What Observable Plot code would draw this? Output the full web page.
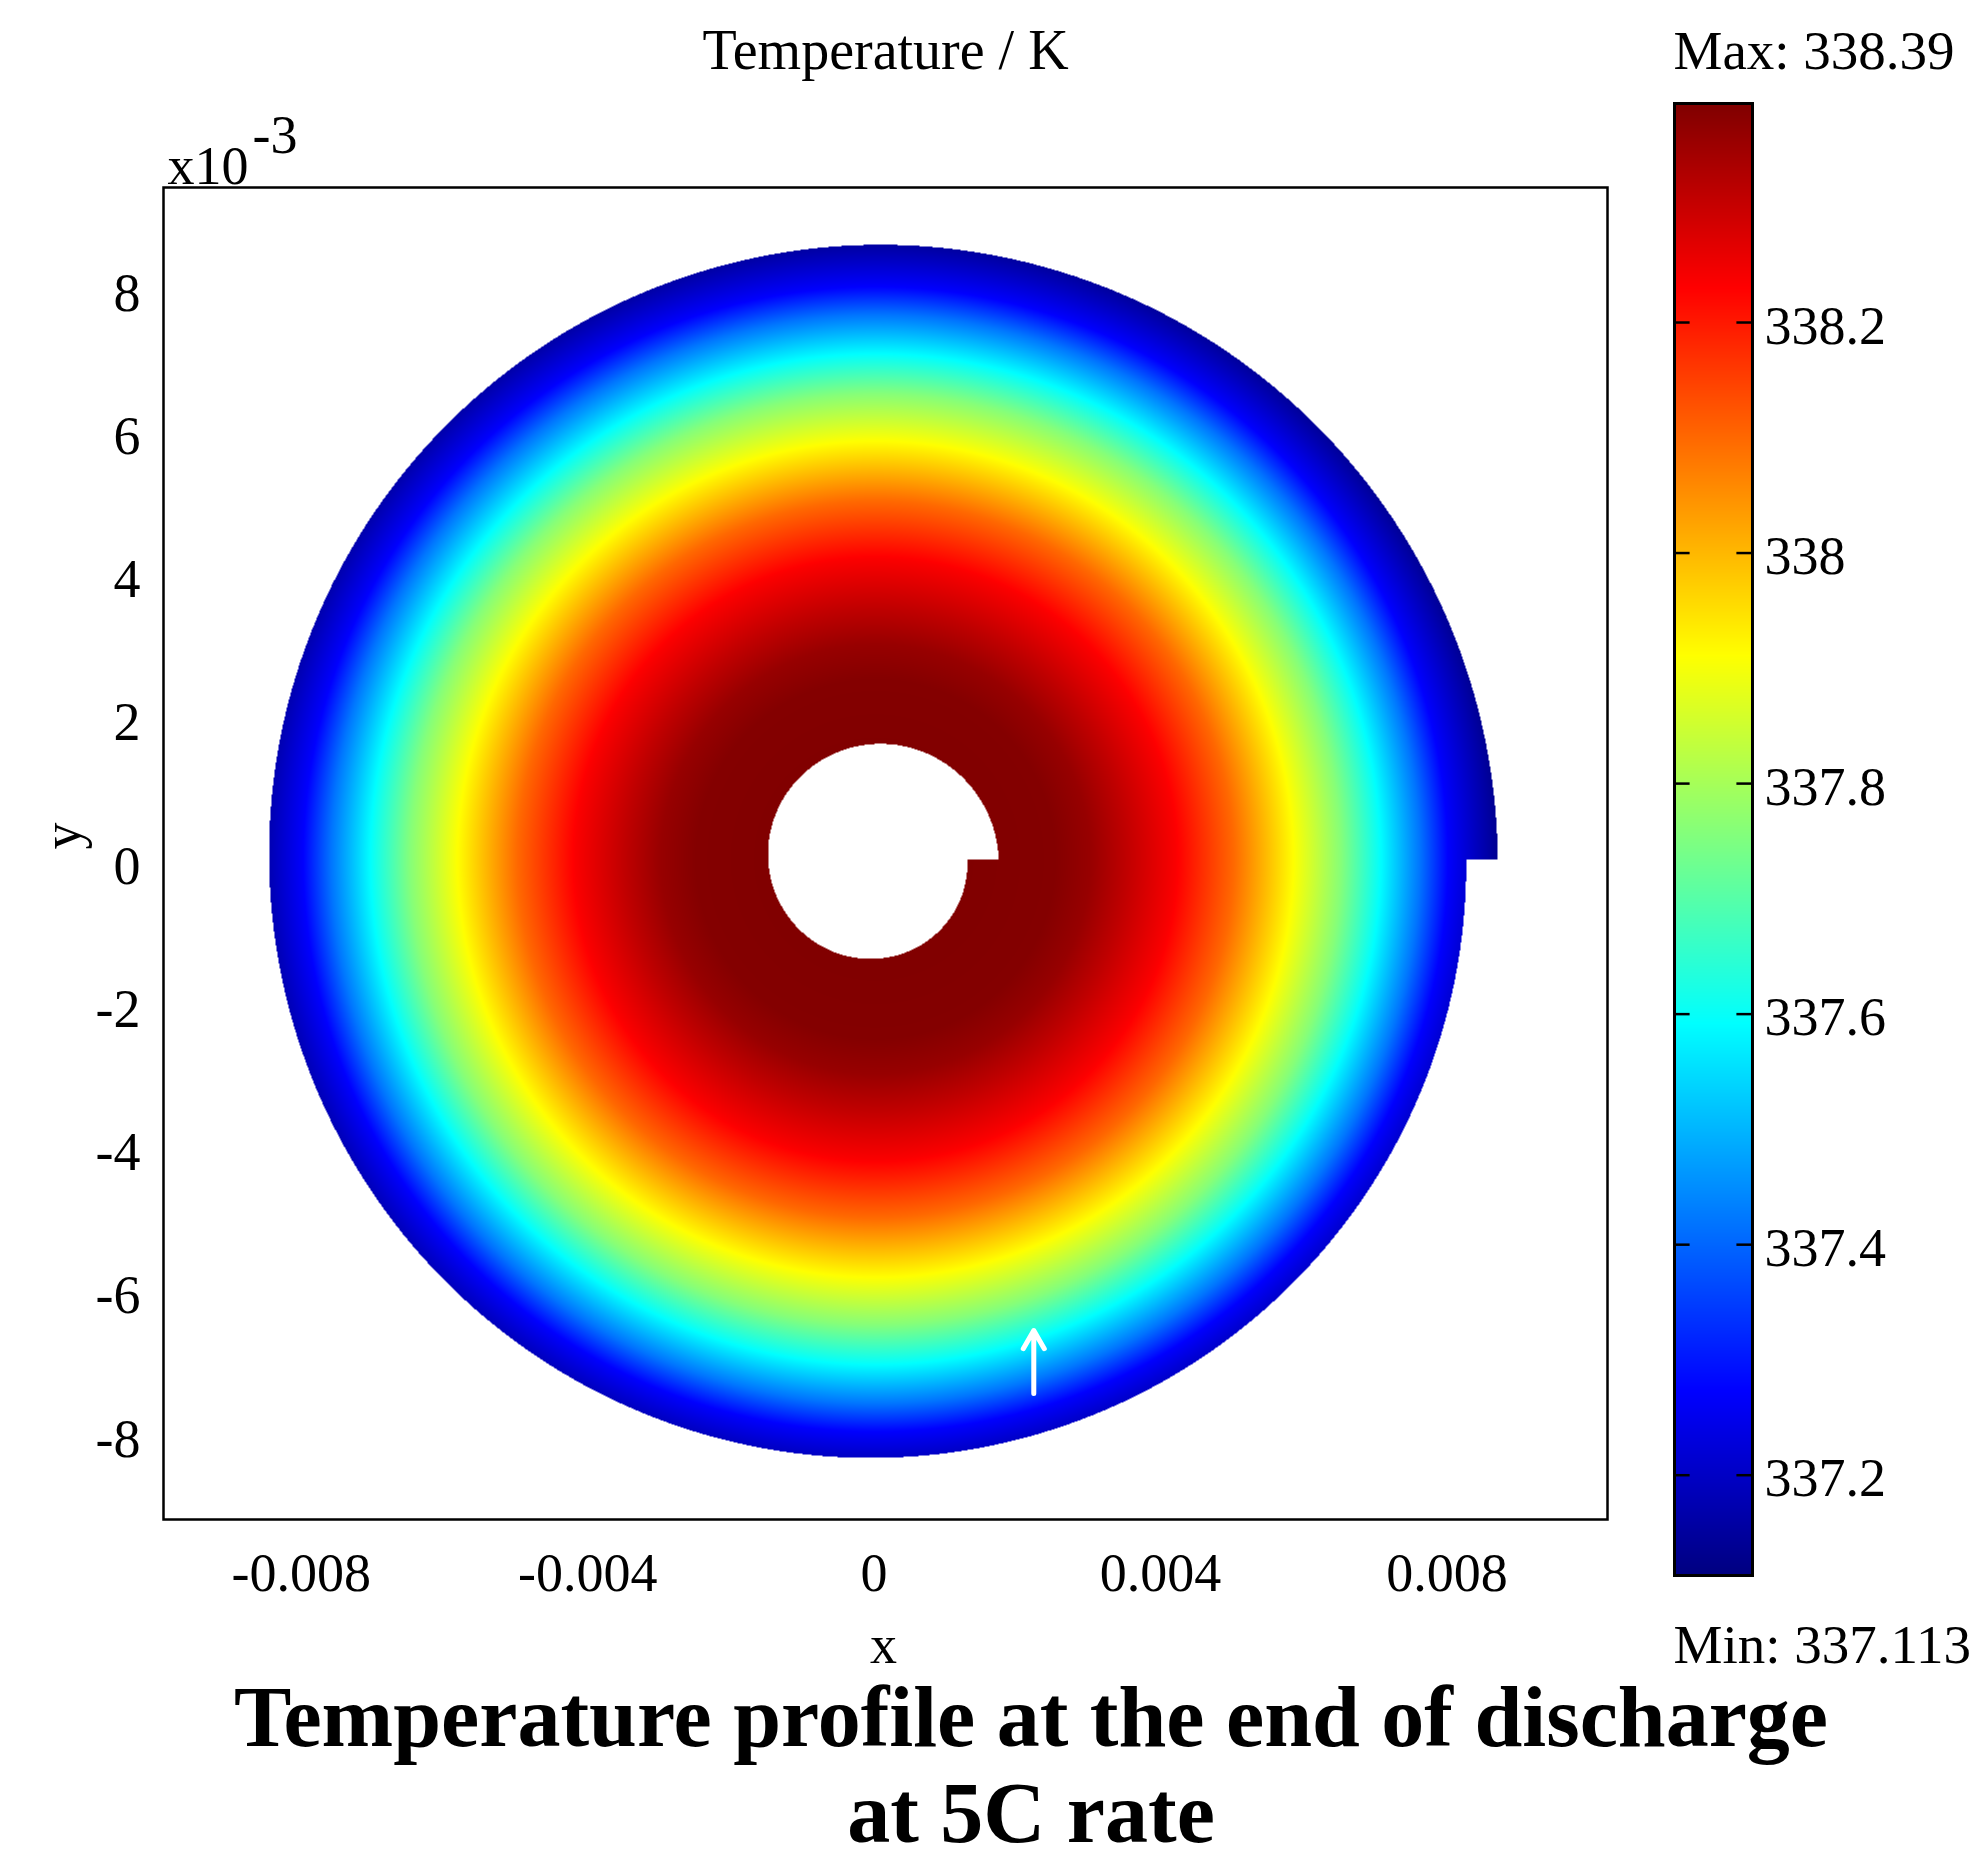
<!DOCTYPE html>
<html>
<head>
<meta charset="utf-8">
<script src="https://cdn.jsdelivr.net/npm/d3@7"></script>
<script src="https://cdn.jsdelivr.net/npm/@observablehq/plot@0.6"></script>
<style>
  html, body { margin: 0; padding: 0; background: #fff; }
  #chart { position: relative; width: 1978px; height: 1861px; overflow: hidden; background: #fff; }
  #chart svg { position: absolute; top: 0; }
  #caption {
    position: absolute; left: 84px; width: 1894px; top: 1669px; height: 192px;
    text-align: center; font-family: 'Liberation Serif', 'Times New Roman', serif;
    font-weight: bold; font-size: 86px; line-height: 96px; color: #000; white-space: pre;
  }
</style>
</head>
<body>
<div id="chart"></div>
<script>
// ---------------- data ----------------
const xTicks = [-0.008, -0.004, 0, 0.004, 0.008];
const xTickLabels = ["-0.008", "-0.004", "0", "0.004", "0.008"];
const yTicks = [-0.008, -0.006, -0.004, -0.002, 0, 0.002, 0.004, 0.006, 0.008];
const yTickLabels = ["-8", "-6", "-4", "-2", "0", "2", "4", "6", "8"];
const colorTicks = [337.2, 337.4, 337.6, 337.8, 338, 338.2];
const colorTickLabels = ["337.2", "337.4", "337.6", "337.8", "338", "338.2"];
const tempMin = 337.113;
const tempMax = 338.39;

// radial temperature profile (radius in m -> temperature in K)
const profileRadius = [0.0012, 0.0025, 0.0030, 0.0035, 0.0042, 0.0050, 0.0058, 0.0065, 0.0070, 0.0076, 0.0080, 0.0084, 0.0088];
const profileTemp   = [338.39, 338.385, 338.36, 338.31, 338.235, 338.10, 337.92, 337.76, 337.61, 337.42, 337.27, 337.19, 337.113];

// spiral (jelly-roll) geometry, metres
const spiralCenter = [0.00002, 0.0001];
const spiralInnerStart = 0.00172;
const spiralOuterStart = 0.00869;
const spiralPitch = 0.00044;

// white arrow
const arrowX = [0.00223];
const arrowYFrom = [-0.00736];
const arrowYTo = [-0.00648];

const xDomain = [-0.009925, 0.010243];
const yDomain = [-0.00912, 0.00948];

// jet colormap
const jetStops = [0, 0.125, 0.375, 0.625, 0.875, 1];
const jetColors = ["#000080", "#0000ff", "#00ffff", "#ffff00", "#ff0000", "#800000"];

// ---------------- drawing ----------------
const serif = "'Liberation Serif', 'Times New Roman', serif";
const colorScale = {
  type: "linear",
  domain: jetStops.map(t => tempMin + t * (tempMax - tempMin)),
  range: jetColors,
  interpolate: "rgb"
};

const profile = d3.scaleLinear().domain(profileRadius).range(profileTemp).clamp(true);
function temperatureAt(x, y) {
  const dx = x - spiralCenter[0], dy = y - spiralCenter[1];
  const r = Math.hypot(dx, dy);
  let a = Math.atan2(dy, dx);
  if (a < 0) a += 2 * Math.PI;
  const shrink = spiralPitch * a / (2 * Math.PI);
  if (r < spiralInnerStart - shrink || r > spiralOuterStart - shrink) return NaN;
  return profile(r);
}

const arrows = arrowX.map((x, i) => ({x, y1: arrowYFrom[i], y2: arrowYTo[i]}));

const main = Plot.plot({
  width: 1620, height: 1700,
  marginLeft: 163, marginRight: 13, marginTop: 187, marginBottom: 181,
  x: {domain: xDomain},
  y: {domain: yDomain},
  color: colorScale,
  style: {fontFamily: serif, fontSize: "54px", color: "black", background: "transparent"},
  marks: [
    Plot.raster({fill: temperatureAt, x1: xDomain[0], x2: xDomain[1], y1: yDomain[0], y2: yDomain[1], pixelSize: 1}),
    Plot.arrow(arrows, {x1: "x", x2: "x", y1: "y1", y2: "y2", stroke: "white", strokeWidth: 5, headLength: 8}),
    Plot.frame({stroke: "black", strokeWidth: 2.5}),
    Plot.axisX(xTicks, {tickSize: 0, tickPadding: 33, fontSize: 54, label: null,
      tickFormat: d => xTickLabels[xTicks.indexOf(d)]}),
    Plot.axisY(yTicks, {tickSize: 0, tickPadding: 23, fontSize: 54, label: null,
      tickFormat: d => yTickLabels[yTicks.indexOf(d)]}),
    Plot.text(["Temperature / K"], {frameAnchor: "top", dy: -119, lineAnchor: "bottom", fontSize: 56}),
    Plot.text(["x10"], {frameAnchor: "top-left", textAnchor: "start", dx: 4, dy: -4, lineAnchor: "bottom", fontSize: 54}),
    Plot.text(["-3"], {frameAnchor: "top-left", textAnchor: "start", dx: 89, dy: -35, lineAnchor: "bottom", fontSize: 54}),
    Plot.text(["x"], {frameAnchor: "bottom", dx: -2, dy: 143, lineAnchor: "bottom", fontSize: 54}),
    Plot.text(["y"], {frameAnchor: "left", dx: -101, dy: -4, rotate: -90, fontSize: 54})
  ]
});
main.style.left = "0px";

const bar = Plot.plot({
  width: 358, height: 1700,
  marginLeft: 54, marginRight: 226, marginTop: 103, marginBottom: 125,
  x: {domain: [0, 1], axis: null},
  y: {domain: [tempMin, tempMax], axis: null},
  color: colorScale,
  style: {fontFamily: serif, fontSize: "54px", color: "black", background: "transparent"},
  marks: [
    Plot.raster({fill: (x, y) => y, x1: 0, x2: 1, y1: tempMin, y2: tempMax, pixelSize: 1}),
    Plot.ruleY(colorTicks, {x1: 0, x2: 0.2, stroke: "black", strokeWidth: 2.5}),
    Plot.ruleY(colorTicks, {x1: 0.8, x2: 1, stroke: "black", strokeWidth: 2.5}),
    Plot.frame({stroke: "black", strokeWidth: 3}),
    Plot.axisY(colorTicks, {anchor: "right", tickSize: 0, tickPadding: 12, dy: 4, fontSize: 54, label: null,
      tickFormat: d => colorTickLabels[colorTicks.indexOf(d)]}),
    Plot.text([`Max: ${tempMax}`], {frameAnchor: "top-left", textAnchor: "start", dx: -1, dy: -35, lineAnchor: "bottom", fontSize: 55}),
    Plot.text([`Min: ${tempMin}`], {frameAnchor: "bottom-left", textAnchor: "start", dx: -1, dy: 87, lineAnchor: "bottom", fontSize: 55})
  ]
});
bar.style.left = "1620px";

const chart = document.getElementById("chart");
chart.appendChild(main);
chart.appendChild(bar);
const cap = document.createElement("div");
cap.id = "caption";
cap.textContent = "Temperature profile at the end of discharge\nat 5C rate";
chart.appendChild(cap);
</script>
</body>
</html>
